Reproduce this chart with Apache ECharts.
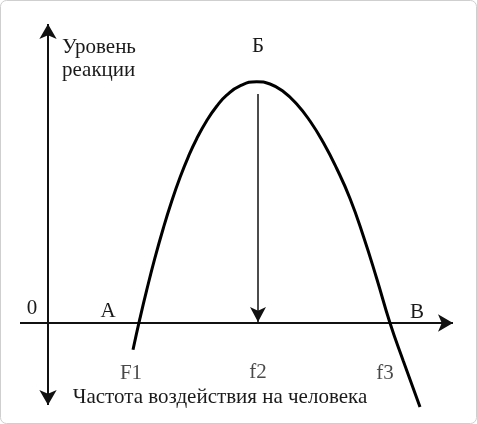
<!DOCTYPE html>
<html>
<head>
<meta charset="utf-8">
<script src="https://cdn.jsdelivr.net/npm/echarts@6/dist/echarts.min.js"></script>
<style>
  html, body { margin: 0; padding: 0; background: #fff; }
  #chart { width: 477px; height: 424px; }
</style>
</head>
<body>
<div id="chart"></div>
<script>
// Frequency of impact (x) vs. level of reaction (y), schematic units
const curveFreq = [8.5, 9.2, 9.87, 10.7, 11.53, 12.37, 13.2, 14.03, 14.87, 15.87, 16.87, 17.87, 19.2, 20.87,
  22.2, 23.53, 24.87, 26.2, 27.53, 28.87, 30.2, 31.53, 32.87, 34.2, 35.53, 37.2];
const curveLevel = [-2.67, 0.48, 3.29, 6.53, 9.48, 12.17, 14.54, 16.62, 18.43, 20.23, 21.68, 22.78, 23.71, 24.13,
  23.9, 23.15, 21.9, 20.2, 18.05, 15.45, 12.45, 8.7, 4.45, 0.0, -3.8, -8.4];
const tickFreq = [9.1, 21, 34.2];
const tickLabels = ['F1', 'f2', 'f3'];
const peakLevel = 22.9;
const axisRangeX = [-2.8, 40.5];
const axisRangeY = [-8.2, 29.9];

const FONT = '"Liberation Serif", "DejaVu Serif", serif';
const FS = 21;
const chart = echarts.init(document.getElementById('chart'), null, { renderer: 'canvas' });

const curveData = curveFreq.map((f, i) => [f, curveLevel[i]]);
const tickOffsets = [[-8, 50], [0, 49], [-5, 50]];
const tickData = tickFreq.map((f, i) => ({
  value: [f, 0],
  label: { formatter: tickLabels[i], offset: tickOffsets[i] }
}));

function txt(text, x, y, align) {
  return { type: 'text', x: x, y: y, silent: true,
    style: { text: text, font: FS + 'px ' + FONT, fill: '#1a1a1a', align: align || 'center', verticalAlign: 'middle' } };
}

const option = {
  animation: false,
  backgroundColor: '#fff',
  grid: { left: 0, right: 0, top: 0, bottom: 0 },
  xAxis: { type: 'value', min: -4.8, max: 42.9, show: false },
  yAxis: { type: 'value', min: -10.1, max: 32.3, show: false },
  graphic: [
    { type: 'rect', silent: true, shape: { x: 0.5, y: 0.5, width: 476, height: 423, r: 6 },
      style: { fill: 'none', stroke: '#cfcfcf', lineWidth: 1 } },
    txt('Уровень', 62, 47, 'left'),
    txt('реакции', 62, 70, 'left'),
    txt('Б', 258, 46),
    txt('0', 32, 308),
    txt('А', 108, 311),
    txt('В', 417, 312),
    txt('Частота воздействия на человека', 220, 397)
  ],
  series: [
    {
      name: 'axes', type: 'line', data: [], silent: true,
      markLine: {
        silent: true, animation: false,
        symbolSize: [13, 15],
        label: { show: false },
        lineStyle: { color: '#111', width: 2, type: 'solid' },
        emphasis: { disabled: true },
        data: [
          [{ coord: [0, axisRangeY[0]], symbol: 'arrow' }, { coord: [0, axisRangeY[1]], symbol: 'arrow' }],
          [{ coord: [axisRangeX[0], 0], symbol: 'none' }, { coord: [axisRangeX[1], 0], symbol: 'arrow' }]
        ]
      }
    },
    {
      name: 'arrow', type: 'line', data: [], silent: true,
      markLine: {
        silent: true, animation: false,
        symbolSize: [12, 15],
        label: { show: false },
        lineStyle: { color: '#111', width: 1.5, type: 'solid' },
        emphasis: { disabled: true },
        data: [
          [{ coord: [tickFreq[1], peakLevel], symbol: 'none' }, { coord: [tickFreq[1], 0.1], symbol: 'arrow' }]
        ]
      }
    },
    {
      name: 'reaction', type: 'line', smooth: true, showSymbol: false, silent: true,
      data: curveData,
      lineStyle: { color: '#000', width: 3 },
      z: 5
    },
    {
      name: 'ticks', type: 'scatter', silent: true, symbolSize: 0,
      data: tickData,
      label: { show: true, position: 'inside', fontFamily: FONT, fontSize: FS, color: '#1a1a1a' }
    }
  ]
};
chart.setOption(option);
</script>
</body>
</html>
